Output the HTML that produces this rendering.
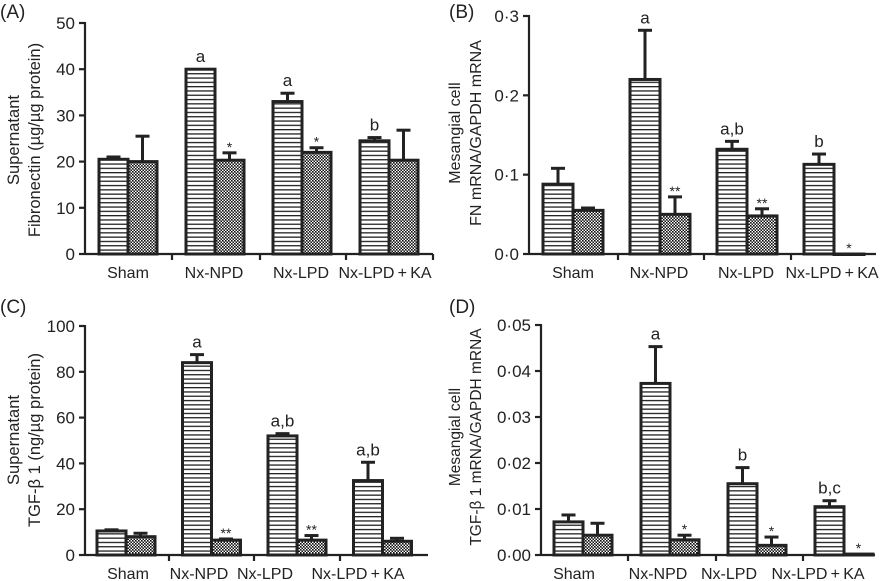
<!DOCTYPE html>
<html><head><meta charset="utf-8"><style>
html,body{margin:0;padding:0;background:#fff;}
svg{display:block;font-family:"Liberation Sans",Arial,sans-serif;}
</style></head><body>
<svg id="fig" width="892" height="581" viewBox="0 0 892 581" xmlns="http://www.w3.org/2000/svg">
<defs>
<pattern id="stripe" width="6" height="4.3" patternUnits="userSpaceOnUse"><rect width="6" height="4.3" fill="#fff"/><rect y="0" width="6" height="1.3" fill="#222"/></pattern>
<pattern id="check" width="3" height="3" patternUnits="userSpaceOnUse"><rect width="3" height="3" fill="#fff"/><rect width="1.6" height="1.6" fill="#111"/><rect x="1.5" y="1.5" width="1.5" height="1.5" fill="#111"/></pattern>
</defs>
</svg>
<script>
const categories = ["Sham","Nx-NPD","Nx-LPD","Nx-LPD\u2009+\u2009KA"];
const aStriped = [20.5, 40, 33, 24.5];
const aStripedErr = [0.5, 0, 1.8, 0.7];
const aChecked = [20, 20.3, 22, 20.3];
const aCheckedErr = [5.5, 1.6, 1, 6.5];
const aTicks = [0,10,20,30,40,50];
const aTickLabels = ["0","10","20","30","40","50"];
const aLetters = ["","a","a","b"];
const aStars = ["","*","*",""];

const bStriped = [0.088, 0.22, 0.132, 0.113];
const bStripedErr = [0.02, 0.062, 0.01, 0.013];
const bChecked = [0.055, 0.05, 0.048, 0];
const bCheckedErr = [0.003, 0.022, 0.009, 0];
const bTicks = [0,0.1,0.2,0.3];
const bTickLabels = ["0·0","0·1","0·2","0·3"];
const bLetters = ["","a","a,b","b"];
const bStars = ["","**","**","*"];

const cStriped = [10.5, 84, 52, 32.5];
const cStripedErr = [0.5, 3.5, 1, 8];
const cChecked = [8, 6.5, 6.5, 6];
const cCheckedErr = [1.5, 0.5, 2, 1.3];
const cTicks = [0,20,40,60,80,100];
const cTickLabels = ["0","20","40","60","80","100"];
const cLetters = ["","a","a,b","a,b"];
const cStars = ["","**","**",""];

const dStriped = [0.0072, 0.0373, 0.0155, 0.0105];
const dStripedErr = [0.0015, 0.008, 0.0035, 0.0013];
const dChecked = [0.0043, 0.0033, 0.0021, 0.0002];
const dCheckedErr = [0.0026, 0.001, 0.0018, 0];
const dTicks = [0,0.01,0.02,0.03,0.04,0.05];
const dTickLabels = ["0·00","0·01","0·02","0·03","0·04","0·05"];
const dLetters = ["","a","b","b,c"];
const dStars = ["","*","*","*"];

const NS="http://www.w3.org/2000/svg";
const svg=document.getElementById('fig');
function mk(tag,attrs,parent,text){const e=document.createElementNS(NS,tag);for(const k in attrs)e.setAttribute(k,attrs[k]);if(text!==undefined)e.textContent=text;(parent||svg).appendChild(e);return e;}

function panel(cfg){
  const g=mk('g',{});
  
  
  const yMax=cfg.ticks[cfg.ticks.length-1];
  const ys=v=>cfg.y0-(v/yMax)*(cfg.y0-cfg.yTop);
  const pl=mk('text',{x:cfg.plx,y:cfg.ply,'font-size':19,fill:'#222'},g,'('+cfg.id.toUpperCase()+')');
  
  
  const ya=mk('line',{x1:cfg.x0,y1:cfg.yTop-1,x2:cfg.x0,y2:cfg.y0,stroke:'#222','stroke-width':2.2},g);
  
  
  const xa=mk('line',{x1:cfg.x0,y1:cfg.y0,x2:cfg.xEnd,y2:cfg.y0,stroke:'#222','stroke-width':2.2},g);
  
  
  cfg.ticks.forEach((t,i)=>{
    const y=ys(t);
    mk('line',{x1:cfg.x0-6,y1:y,x2:cfg.x0,y2:y,stroke:'#222','stroke-width':2.2},g);
    const tl=mk('text',{x:cfg.x0-10,y:y+6,'font-size':17,'text-anchor':'end',fill:'#222'},g,cfg.tickLabels[i]);
    
    
  });
  cfg.xTicks.forEach(x=>mk('line',{x1:x,y1:cfg.y0,x2:x,y2:cfg.y0+6,stroke:'#222','stroke-width':2.2},g));
  const yt=mk('text',{transform:`translate(${cfg.ytx},${cfg.yty}) rotate(-90)`,'font-size':cfg.tfs,'text-anchor':'middle',fill:'#222'},g);
  
  
  mk('tspan',{x:0,dy:0},yt,cfg.title[0]);
  mk('tspan',{x:0,dy:21},yt,cfg.title[1]);
  const bw=cfg.bw;
  categories.forEach((c,i)=>{
    const gx=cfg.bx0+i*cfg.gw;
    [[cfg.s,cfg.se,'url(#stripe)',cfg.letters,'bar-striped'],[cfg.c,cfg.ce,'url(#check)',cfg.stars,'bar-checked']].forEach((ser,k)=>{
      const v=ser[0][i], e=ser[1][i];
      const x=gx+k*bw, yv=ys(v);
      if(e>0){
        const ye=ys(v+e);
        mk('line',{x1:x+bw/2,y1:ye,x2:x+bw/2,y2:yv,stroke:'#222','stroke-width':3},g);
        mk('line',{x1:x+bw/2-7,y1:ye,x2:x+bw/2+7,y2:ye,stroke:'#222','stroke-width':3},g);
      }
      const r=mk('rect',{x:x,y:yv,width:bw,height:Math.max(cfg.y0-yv,0.5),fill:ser[2],stroke:'#222','stroke-width':3},g);
      
      
      const lab=ser[3][i];
      if(lab){
        const ly=ys(v+e)-(k===0?7:5);
        const t=mk('text',{x:x+bw/2,y:k===0?ly:ly+4,'font-size':k===0?17:14,'text-anchor':'middle',fill:'#222'},g,lab);
        
        
      }
    });
    const cl=mk('text',{x:cfg.labelX[i],y:cfg.y0+24,'font-size':16,'text-anchor':'middle',fill:'#222'},g,c);
    
    
  });
}

panel({id:'a',s:aStriped,se:aStripedErr,c:aChecked,ce:aCheckedErr,ticks:aTicks,tickLabels:aTickLabels,letters:aLetters,stars:aStars,
  x0:85,xEnd:433,y0:254,yTop:23,bx0:99,gw:87,bw:29,xTicks:[172,260,346,433],labelX:[128,214,301,385],tfs:16.5,
  plx:0,ply:18,ytx:19,yty:140,title:["Supernatant","Fibronectin (µg/µg protein)"]});
panel({id:'b',s:bStriped,se:bStripedErr,c:bChecked,ce:bCheckedErr,ticks:bTicks,tickLabels:bTickLabels,letters:bLetters,stars:bStars,
  x0:529,xEnd:876,y0:254,yTop:16,bx0:543,gw:87,bw:30,xTicks:[618,704,791],labelX:[573,659,746,832],tfs:16,
  plx:449,ply:18,ytx:460,yty:133,title:["Mesangial cell","FN mRNA/GAPDH mRNA"]});
panel({id:'c',s:cStriped,se:cStripedErr,c:cChecked,ce:cCheckedErr,ticks:cTicks,tickLabels:cTickLabels,letters:cLetters,stars:cStars,
  x0:85,xEnd:428,y0:555,yTop:326,bx0:97,gw:85.5,bw:29,xTicks:[169,254,340],labelX:[128,199,265,358],tfs:16.5,
  plx:0,ply:313,ytx:19,yty:440,title:["Supernatant","TGF-β 1 (ng/µg protein)"]});
panel({id:'d',s:dStriped,se:dStripedErr,c:dChecked,ce:dCheckedErr,ticks:dTicks,tickLabels:dTickLabels,letters:dLetters,stars:dStars,
  x0:541,xEnd:875,y0:555,yTop:325,bx0:554,gw:87,bw:29,xTicks:[628,716,803],labelX:[574,658,729,818],tfs:15.5,
  plx:449,ply:313,ytx:460,yty:437,title:["Mesangial cell","TGF-β 1 mRNA/GAPDH mRNA"]});
</script>
</body></html>
